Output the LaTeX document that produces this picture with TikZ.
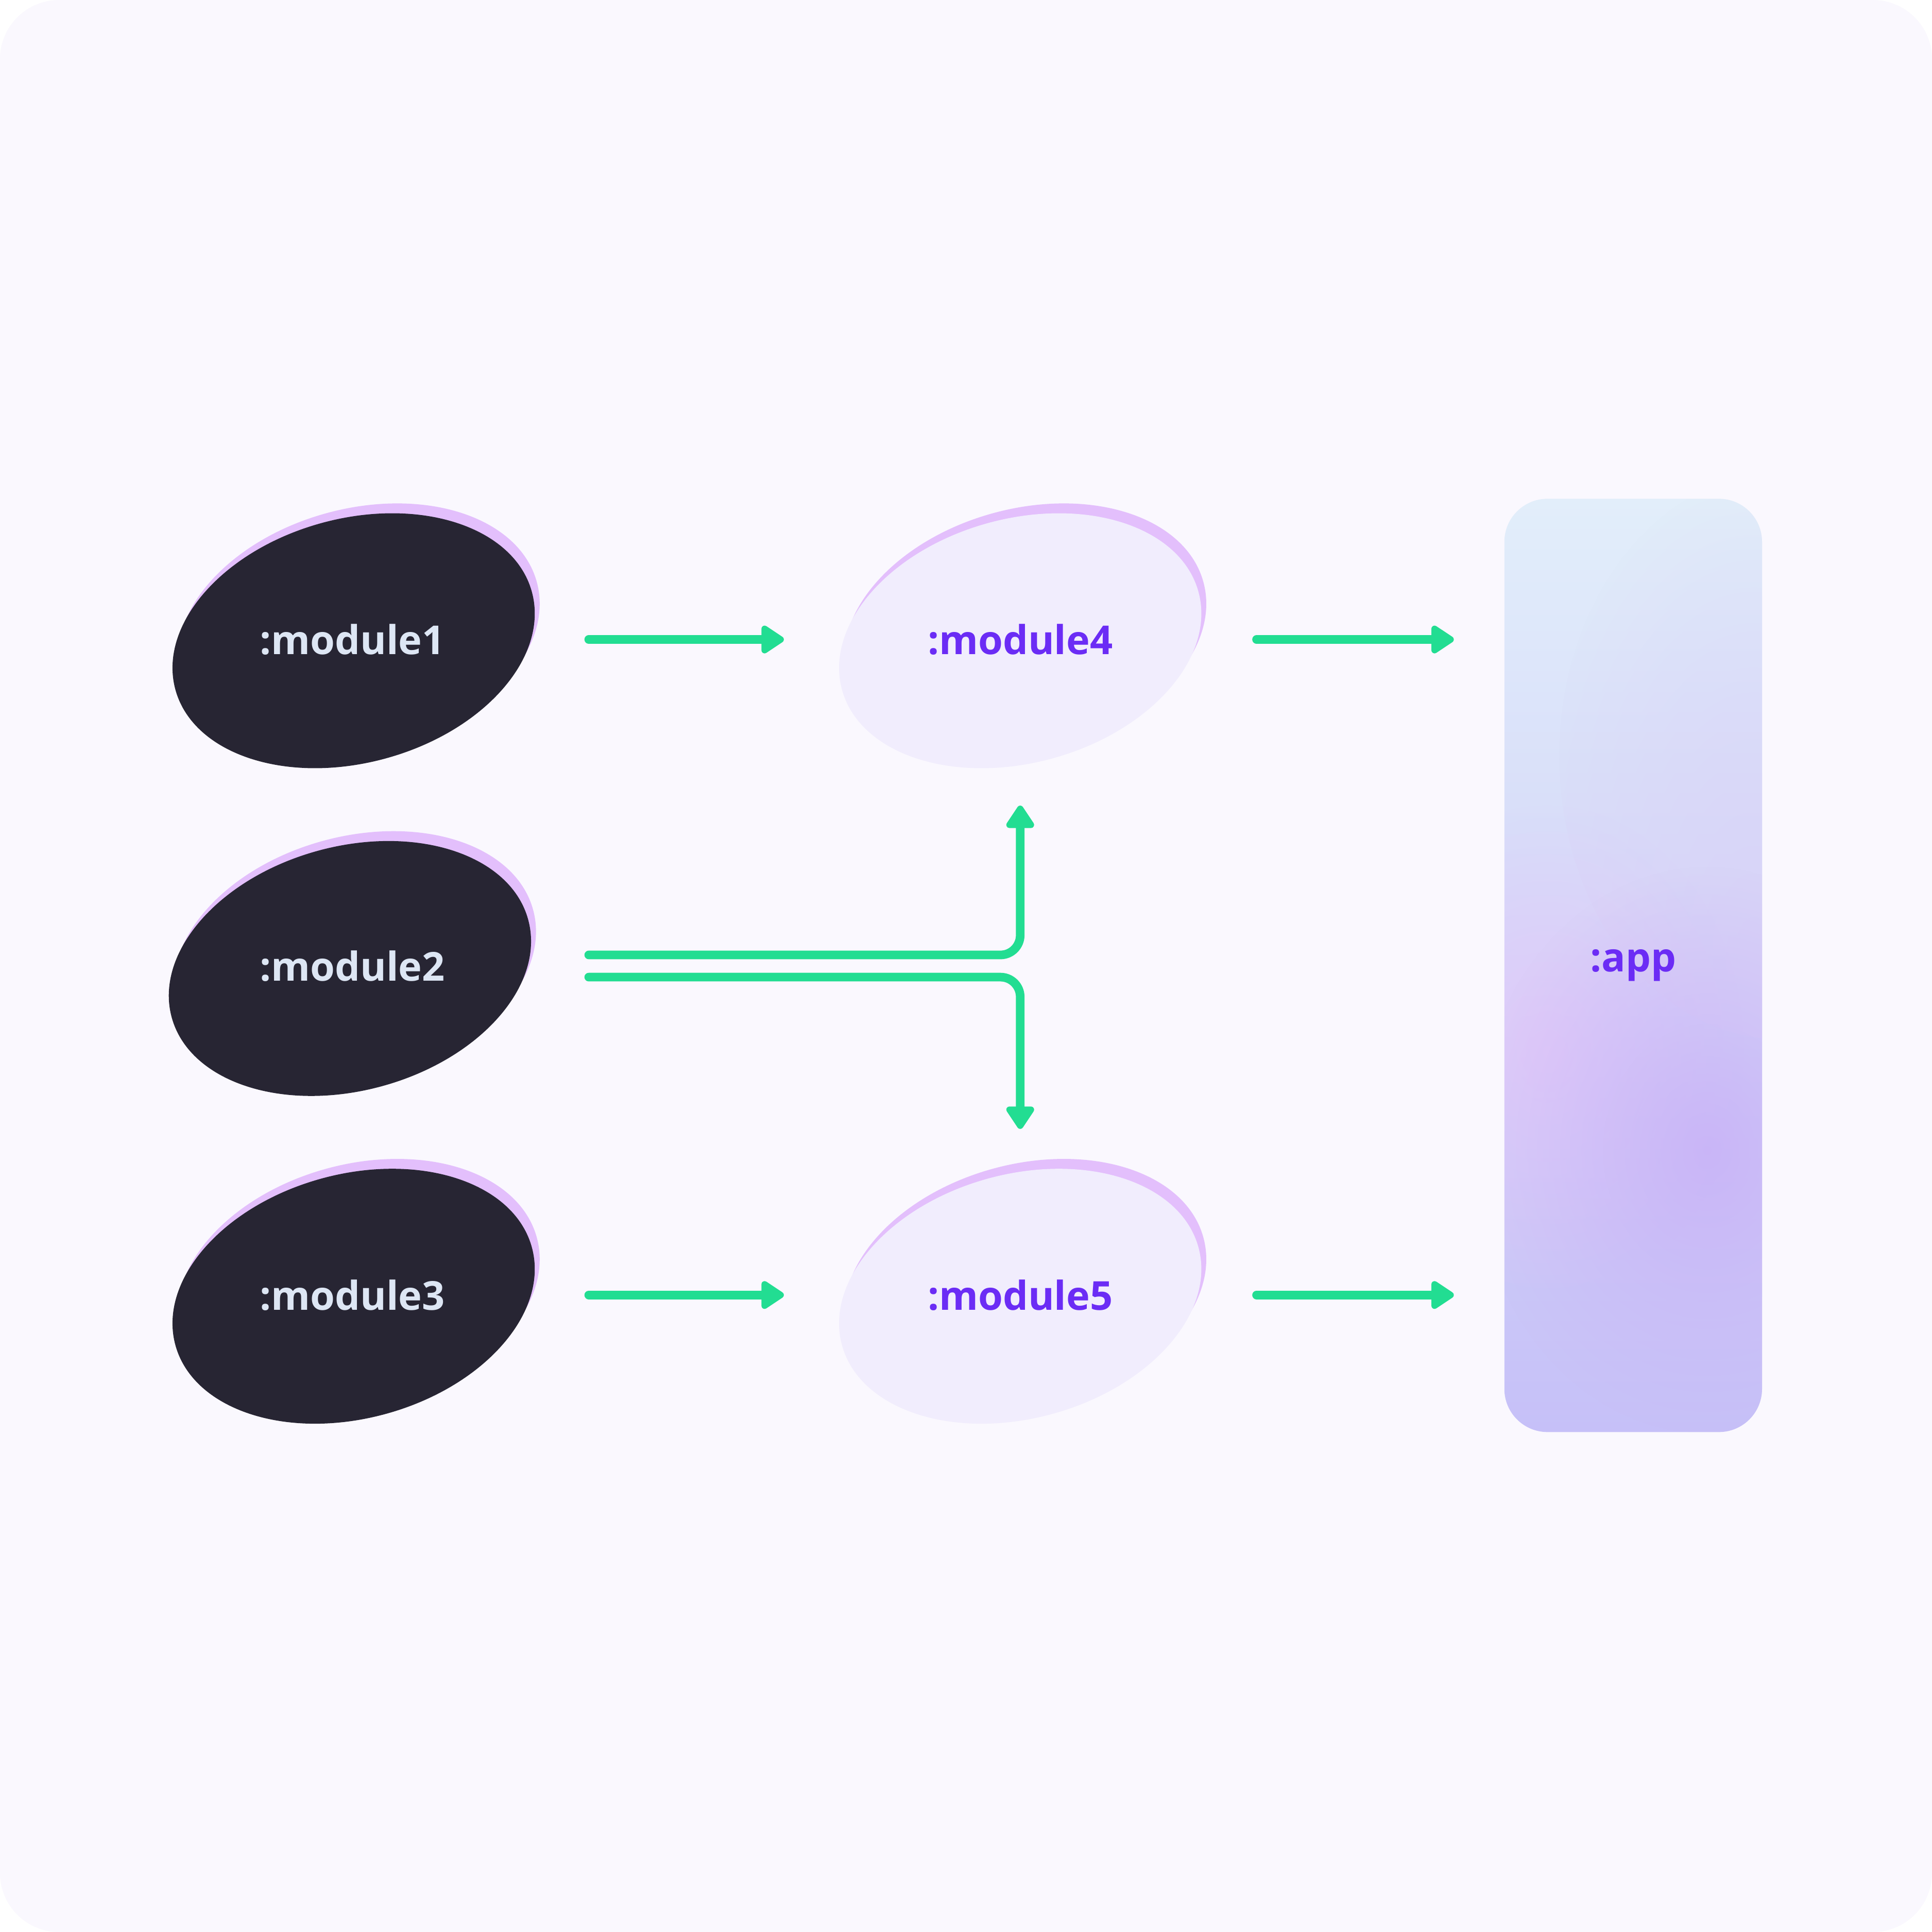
\documentclass[tikz,border=0pt]{standalone}
\usepackage{fontspec}
\setmainfont{Open Sans}
\usepackage{tikz}
\usetikzlibrary{arrows.meta,calc,fadings}
\definecolor{bgpage}{HTML}{FAF8FE}
\definecolor{ink900}{HTML}{272533}
\definecolor{lilac200}{HTML}{E3BFFC}
\definecolor{lilac50}{HTML}{F1EDFD}
\definecolor{violet600}{HTML}{6B2CF5}
\definecolor{frost100}{HTML}{DDE6F4}
\definecolor{mint400}{HTML}{22DD92}
\definecolor{appsky}{HTML}{E2EEFA}
\definecolor{apppink}{HTML}{E2C9FA}
\definecolor{appbase}{HTML}{C6C0F8}
\definecolor{appspot}{HTML}{C9B3F7}
\definecolor{appside}{HTML}{D9D3F8}
\tikzfading[name=softspot, inner color=transparent!10, outer color=transparent!100]
\tikzstyle{module}=[rectangle, minimum width=3.82cm, minimum height=2.68cm, inner sep=0pt, font=\fontsize{9.2}{11}\selectfont\bfseries]
\tikzstyle{flow}=[draw=mint400, line width=0.07cm, line cap=round, rounded corners=0.16cm, -{Triangle[length=0.205cm, width=0.255cm, round]}]
\tikzstyle{appbox}=[rectangle, rounded corners=0.35cm, minimum width=2.09cm, minimum height=7.57cm, outer xsep=0.41cm, top color=appsky, middle color=apppink, bottom color=appbase, text=violet600, font=\fontsize{9.2}{11}\selectfont\bfseries,
  path picture={
    \fill[appside, path fading=softspot] ([shift={(120,-170)}]path picture bounding box.center) ellipse [x radius=180, y radius=230];
    \fill[apppink, path fading=softspot] ([shift={(-70,70)}]path picture bounding box.center) ellipse [x radius=160, y radius=200];
    \fill[appspot, path fading=softspot] ([shift={(60,150)}]path picture bounding box.center) ellipse [x radius=190, y radius=230];
  }]
\newcommand{\moduleblob}[3]{
  \fill[lilac200, shift={(#1+4,#2-8)}, rotate=15.4] (0,0) ellipse [x radius=150, y radius=99];
  \fill[#3, shift={(#1,#2)}, rotate=15.4] (0,0) ellipse [x radius=150, y radius=99];
}

\begin{document}
\begin{tikzpicture}[x=0.01cm, y=-0.01cm]
\useasboundingbox (0,0) rectangle (1568,1568);
\fill[white] (0,0) rectangle (1568,1568);
\fill[bgpage, rounded corners=0.48cm] (0,0) rectangle (1568,1568);
% blobs
\moduleblob{287}{520}{ink900}
\moduleblob{284}{786}{ink900}
\moduleblob{287}{1052}{ink900}
\moduleblob{828}{520}{lilac50}
\moduleblob{828}{1052}{lilac50}
% labels
\node[module, text=frost100] (m1) at (286,519) {:module1};
\node[module, text=frost100] (m2) at (286,784) {:module2};
\node[module, text=frost100] (m3) at (286,1051) {:module3};
\node[module, text=violet600] (m4) at (828,519) {:module4};
\node[module, text=violet600] (m5) at (828,1051) {:module5};
\node[appbox] (app) at (1325.5,783.5) {:app};
% arrows
\draw[flow] (m1) -- (m4);
\draw[flow] (m3) -- (m5);
\draw[flow] (m4.east) -- (m4.east -| app.west);
\draw[flow] (m5.east) -- (m5.east -| app.west);
\draw[flow] ($(m2.east)+(0,-9)$) -| (m4.south);
\draw[flow] ($(m2.east)+(0,9)$) -| (m5.north);
\end{tikzpicture}
\end{document}
